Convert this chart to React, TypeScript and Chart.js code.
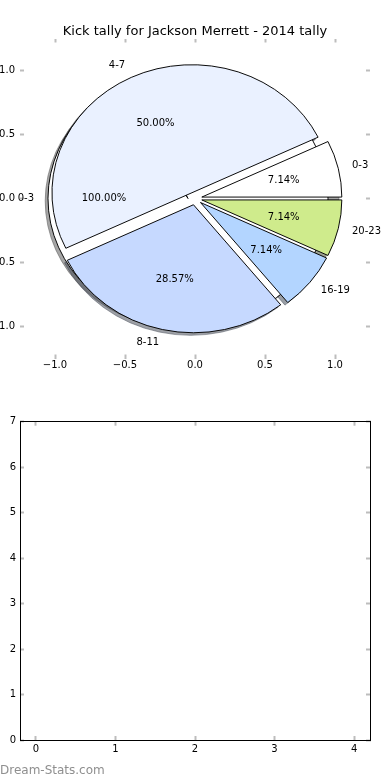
import React, { useEffect, useRef } from 'react';
import { Chart, registerables } from 'chart.js';

Chart.register(...registerables);

// ---------------- data ----------------
const TITLE = 'Kick tally for Jackson Merrett - 2014 tally';
const SLICE_LABELS = ['0-3', '4-7', '8-11', '16-19', '20-23'];
const SLICE_VALUES = [1, 7, 4, 1, 1];
const SLICE_COLORS = ['#ffffff', '#eaf1ff', '#c6d9ff', '#b3d5ff', '#cfeb8c'];
const BACK_LABELS = ['0-3'];
const BACK_VALUES = [1];
const BACK_COLORS = ['#ffffff'];

const PIE_TICKS = [-1, -0.5, 0, 0.5, 1];
const PIE_TICK_LABELS = ['\u22121.0', '\u22120.5', '0.0', '0.5', '1.0'];
const PIE_LIMITS = [-1.25, 1.25];

const LOWER_X_TICKS = [0, 1, 2, 3, 4];
const LOWER_X_LABELS = ['0', '1', '2', '3', '4'];
const LOWER_X_LIMITS = [-0.2, 4.2];
const LOWER_Y_TICKS = [0, 1, 2, 3, 4, 5, 6, 7];
const LOWER_Y_LABELS = ['0', '1', '2', '3', '4', '5', '6', '7'];
const LOWER_Y_LIMITS = [0, 7];

const WATERMARK = 'Dream-Stats.com';

// ---------------- style ----------------
const FONT = "'DejaVu Sans'";
const W = 390;
const TOP_H = 400;
const LOW_H = 380;
const TICK_COLOR = '#bdbdbd';
const EXPLODE = 0.05;
const LABEL_DISTANCE = 1.1;
const PCT_DISTANCE = 0.6;
const SHADOW_SHIFT = 0.02;
const SEAM_ROTATION = -28;

type Wedge = { label: string; value: number; color: string; pct: string; mid: number };

function buildWedges(labels: string[], values: number[], colors: string[]): Wedge[] {
  const total = values.reduce((a, b) => a + b, 0);
  let cum = 0;
  const out: Wedge[] = values.map((v, i) => {
    const mid = ((cum + v / 2) / total) * Math.PI * 2;
    cum += v;
    return { label: labels[i], value: v, color: colors[i], pct: ((v / total) * 100).toFixed(2) + '%', mid };
  });
  // Chart.js runs clockwise on screen, matplotlib counter-clockwise
  return out.reverse();
}

function shade(hex: string) {
  const n = parseInt(hex.slice(1), 16);
  const r = (n >> 16) & 255, g = (n >> 8) & 255, b = n & 255;
  return `rgba(${Math.round(r * 0.3)},${Math.round(g * 0.3)},${Math.round(b * 0.3)},0.5)`;
}

function axisOpts(position: string, limits: number[], values: number[], labels: string[], size: number, showLabels: boolean, padding: number, spine: boolean) {
  const horizontal = position === 'top' || position === 'bottom';
  return {
    type: 'linear',
    position,
    min: limits[0],
    max: limits[1],
    bounds: 'data',
    afterBuildTicks: (s: any) => {
      s.ticks = values.map((v) => ({ value: v }));
    },
    afterFit: (s: any) => {
      if (horizontal) s.height = size;
      else s.width = size;
    },
    grid: { display: true, drawOnChartArea: false, drawTicks: true, tickLength: -4, tickColor: TICK_COLOR, tickWidth: 2 },
    border: { display: spine, color: '#000', width: 1 },
    ticks: {
      display: showLabels,
      padding,
      color: '#000',
      font: { family: FONT, size: 10 },
      autoSkip: false,
      maxRotation: 0,
      minRotation: 0,
      callback: (_v: any, i: number) => labels[i] ?? '',
    },
  };
}

function baseOptions() {
  return {
    responsive: false,
    animation: false,
    devicePixelRatio: 1,
    events: [],
  };
}

export default function App() {
  const topRef = useRef<HTMLCanvasElement>(null);
  const pieARef = useRef<HTMLCanvasElement>(null);
  const pieBRef = useRef<HTMLCanvasElement>(null);
  const lowRef = useRef<HTMLCanvasElement>(null);

  useEffect(() => {
    document.body.style.margin = '0';
    const charts: any[] = [];

    // ---- top axes (frame of the pie) ----
    const top = new Chart(topRef.current as HTMLCanvasElement, {
      type: 'scatter',
      data: { datasets: [{ data: [] }] },
      options: {
        ...baseOptions(),
        layout: { padding: 0 },
        plugins: {
          legend: { display: false },
          tooltip: { enabled: false },
          title: {
            display: true,
            text: TITLE,
            color: '#000',
            font: { family: FONT, size: 13, weight: 'normal', lineHeight: 1 },
            padding: { top: 25.5, bottom: 0 },
          },
        },
        scales: {
          x: axisOpts('bottom', PIE_LIMITS, PIE_TICKS, PIE_TICK_LABELS, TOP_H - 358.5, true, 4.5, false),
          x2: axisOpts('top', PIE_LIMITS, PIE_TICKS, PIE_TICK_LABELS, 0, false, 0, false),
          y: axisOpts('left', PIE_LIMITS, PIE_TICKS, PIE_TICK_LABELS, 20, true, 9, false),
          y2: axisOpts('right', PIE_LIMITS, PIE_TICKS, PIE_TICK_LABELS, 20, false, 0, false),
        },
      } as any,
    });
    charts.push(top);

    // geometry of the data frame, from the library's scales
    const xs: any = top.scales.x;
    const ys: any = top.scales.y;
    const cx = xs.getPixelForValue(0);
    const cy = ys.getPixelForValue(0);
    const rx = xs.getPixelForValue(1) - cx;
    const ry = cy - ys.getPixelForValue(1);
    const ky = ry / rx;
    const padding = {
      left: Math.max(0, 2 * cx - W),
      right: Math.max(0, W - 2 * cx),
      top: Math.max(0, 2 * cy - TOP_H),
      bottom: Math.max(0, TOP_H - 2 * cy),
    };

    const wedgesA = buildWedges(BACK_LABELS, BACK_VALUES, BACK_COLORS);
    const wedgesB = buildWedges(SLICE_LABELS, SLICE_VALUES, SLICE_COLORS);
    const refs: { a: any; b: any } = { a: null, b: null };

    const explodePlugin = (wedges: Wedge[]) => ({
      id: 'explode',
      afterDatasetsUpdate(chart: any) {
        chart.getDatasetMeta(0).data.forEach((el: any, j: number) => {
          const m = wedges[j].mid;
          const e = EXPLODE * el.outerRadius;
          el.x += e * Math.cos(m);
          el.y -= e * Math.sin(m);
        });
      },
    });

    const drawShadow = (ctx: CanvasRenderingContext2D, el: any) => {
      const base = el.options;
      const col = shade(base.backgroundColor);
      const opts = Object.create(base, {
        backgroundColor: { value: col },
        borderColor: { value: col },
      });
      ctx.save();
      ctx.translate(-SHADOW_SHIFT * el.outerRadius, SHADOW_SHIFT * el.outerRadius);
      el.options = opts;
      el.draw(ctx);
      el.options = base;
      ctx.restore();
    };

    const ellipsePlugin = (withShadows: boolean) => ({
      id: 'ellipse',
      beforeDatasetsDraw(chart: any) {
        const ctx = chart.ctx;
        ctx.save();
        ctx.translate(cx, cy);
        ctx.scale(1, ky);
        ctx.translate(-cx, -cy);
        if (withShadows) {
          const els = [...chart.getDatasetMeta(0).data];
          if (refs.b) els.push(...refs.b.getDatasetMeta(0).data);
          els.forEach((el: any) => drawShadow(ctx, el));
        }
      },
      afterDatasetsDraw(chart: any) {
        chart.ctx.restore();
      },
    });

    const labelPlugin = {
      id: 'pieLabels',
      afterDraw(chart: any) {
        const ctx = chart.ctx;
        ctx.save();
        ctx.font = `10px ${FONT}`;
        ctx.fillStyle = '#000';
        ctx.textBaseline = 'middle';
        const sources = [
          { c: refs.a, wedges: wedgesA },
          { c: chart, wedges: wedgesB },
        ];
        sources.forEach(({ c, wedges }) => {
          if (!c) return;
          c.getDatasetMeta(0).data.forEach((el: any, j: number) => {
            const w = wedges[j];
            const R = el.outerRadius;
            const co = Math.cos(w.mid), si = Math.sin(w.mid);
            const lx = el.x + LABEL_DISTANCE * R * co;
            const ly = cy + (el.y - cy - LABEL_DISTANCE * R * si) * ky;
            ctx.textAlign = lx > cx ? 'left' : 'right';
            ctx.fillText(w.label, lx, ly);
            const px = el.x + PCT_DISTANCE * R * co;
            const py = cy + (el.y - cy - PCT_DISTANCE * R * si) * ky;
            ctx.textAlign = 'center';
            ctx.fillText(w.pct, px, py);
          });
        });
        ctx.restore();
      },
    };

    const makePie = (canvas: HTMLCanvasElement, wedges: Wedge[], rotation: number, circumference: number, plugins: any[]) =>
      new Chart(canvas, {
        type: 'pie',
        data: {
          labels: wedges.map((w) => w.label),
          datasets: [
            {
              data: wedges.map((w) => w.value),
              backgroundColor: wedges.map((w) => w.color),
              borderColor: '#000',
              borderWidth: 1,
              borderJoinStyle: 'miter',
              hoverOffset: 0,
              offset: 0,
            },
          ],
        },
        options: {
          ...baseOptions(),
          rotation,
          circumference,
          radius: rx,
          layout: { padding },
          plugins: { legend: { display: false }, tooltip: { enabled: false } },
        } as any,
        plugins,
      } as any);

    const pieB = makePie(pieBRef.current as HTMLCanvasElement, wedgesB, 90, 360, [explodePlugin(wedgesB), ellipsePlugin(false), labelPlugin]);
    refs.b = pieB;
    // a lone 100% wedge is a full circle: drawn as a closed circle without a radial seam
    const pieA = makePie(pieARef.current as HTMLCanvasElement, wedgesA, SEAM_ROTATION, 360.01, [explodePlugin(wedgesA), ellipsePlugin(true)]);
    refs.a = pieA;
    pieB.draw();
    charts.push(pieA, pieB);

    // ---- lower empty axes ----
    const low = new Chart(lowRef.current as HTMLCanvasElement, {
      type: 'scatter',
      data: { datasets: [{ data: [] }] },
      options: {
        ...baseOptions(),
        layout: { padding: { top: 21.7, left: 0, right: 0, bottom: 0 } },
        plugins: { legend: { display: false }, tooltip: { enabled: false } },
        scales: {
          x: axisOpts('bottom', LOWER_X_LIMITS, LOWER_X_TICKS, LOWER_X_LABELS, 40, true, 7, true),
          x2: axisOpts('top', LOWER_X_LIMITS, LOWER_X_TICKS, LOWER_X_LABELS, 0, false, 0, true),
          y: axisOpts('left', LOWER_Y_LIMITS, LOWER_Y_TICKS, LOWER_Y_LABELS, 20, true, 8, true),
          y2: axisOpts('right', LOWER_Y_LIMITS, LOWER_Y_TICKS, LOWER_Y_LABELS, 20, false, 0, true),
        },
      } as any,
    });
    charts.push(low);

    return () => {
      charts.forEach((c) => c.destroy());
    };
  }, []);

  const abs = (top: number): React.CSSProperties => ({ position: 'absolute', left: 0, top });

  return (
    <div style={{ position: 'relative', width: W, height: 780, background: '#fff', overflow: 'hidden' }}>
      <canvas ref={topRef} width={W} height={TOP_H} style={abs(0)} />
      <canvas ref={pieARef} width={W} height={TOP_H} style={abs(0)} />
      <canvas ref={pieBRef} width={W} height={TOP_H} style={abs(0)} />
      <canvas ref={lowRef} width={W} height={LOW_H} style={abs(TOP_H)} />
      <div
        style={{
          position: 'absolute',
          left: 0,
          top: 764,
          fontFamily: FONT,
          fontSize: 12,
          lineHeight: '12px',
          color: '#8f8f8f',
          whiteSpace: 'nowrap',
        }}
      >
        {WATERMARK}
      </div>
    </div>
  );
}
